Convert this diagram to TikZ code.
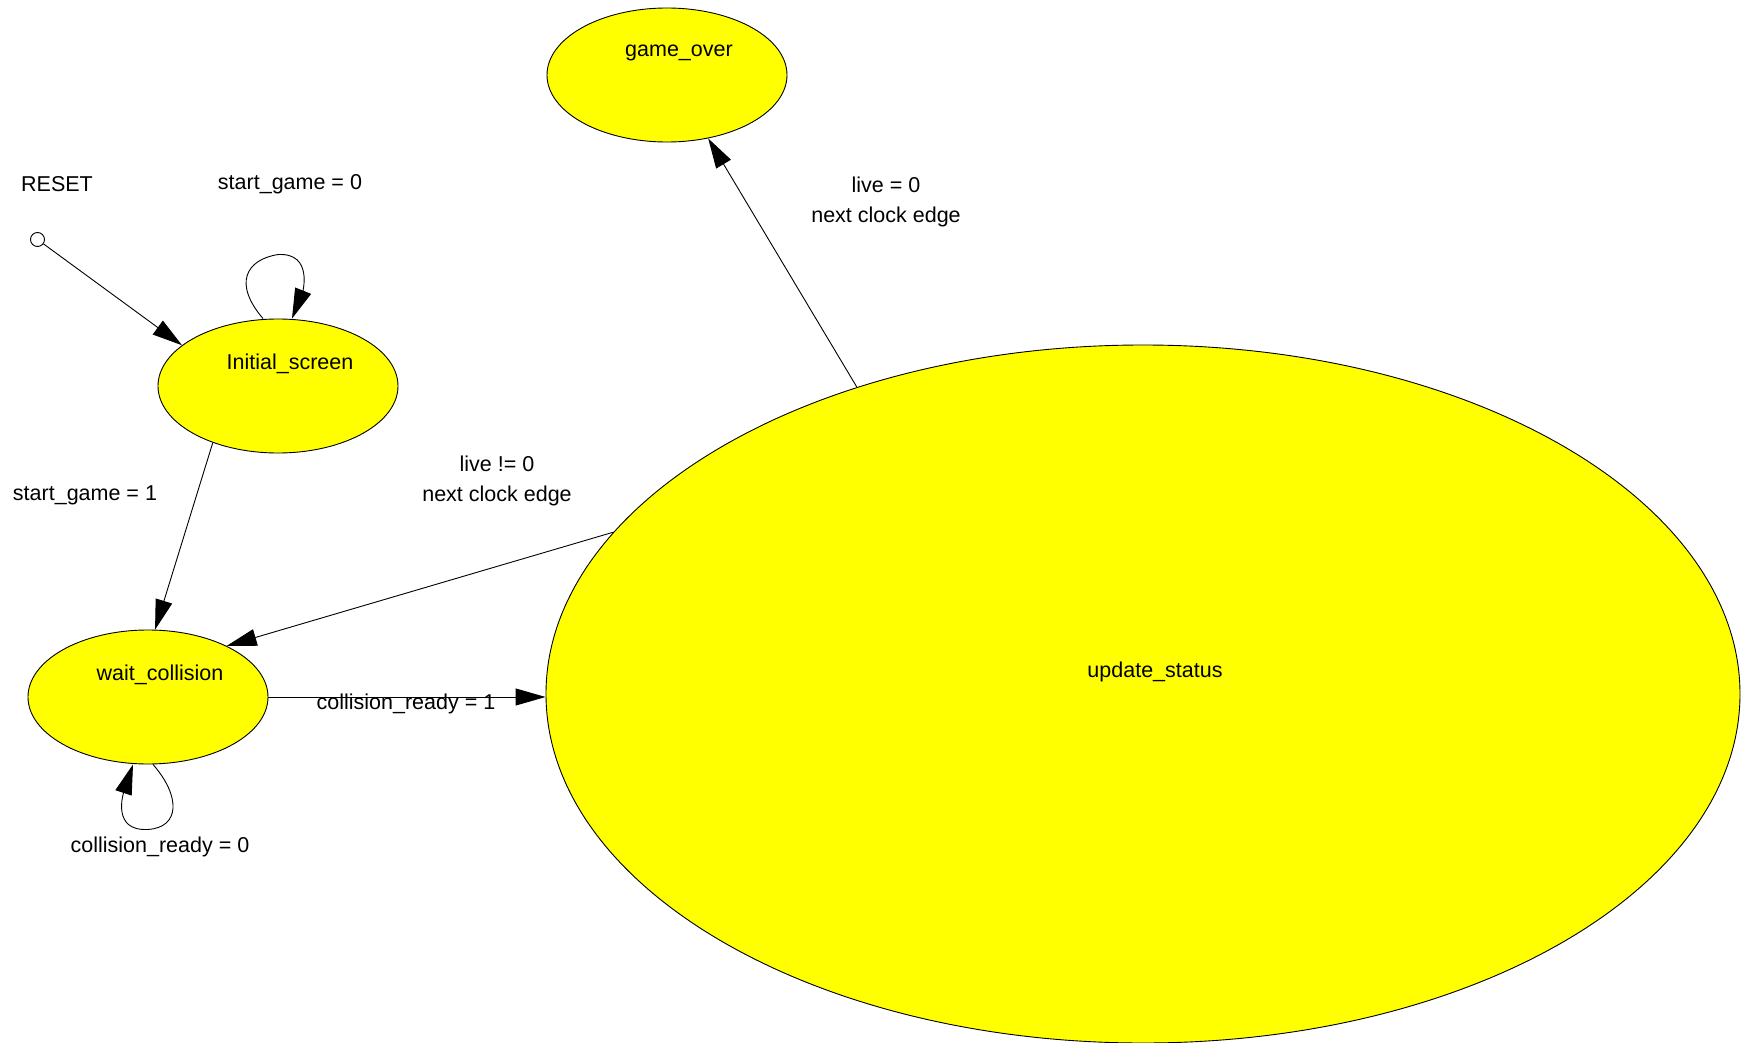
\documentclass[tikz,border=0pt]{standalone}
\usepackage{fontspec}
\setmainfont{Liberation Sans}
\usetikzlibrary{arrows.meta,shapes.geometric,calc}
\definecolor{stfill}{RGB}{255,255,0}
\begin{document}
\begin{tikzpicture}[x=1pt,y=-1pt,
  every node/.style={font=\fontsize{21.5}{24}\selectfont},
  stbox/.style={ellipse,draw=black,line width=0.9pt,fill=stfill,inner sep=0pt},
  small/.style={stbox,minimum width=240pt,minimum height=134pt},
  txt/.style={inner sep=0pt,anchor=center},
  arr/.style={draw=black,line width=0.9pt,-{Triangle[length=30pt,width=17pt]}},
  nlabel/.style={label={[xshift=12pt,yshift=22.5pt,inner sep=0pt,font=\fontsize{21.5}{24}\selectfont]center:#1}}
]
\useasboundingbox (0,0) rectangle (1746,1043);
\fill[white] (0,0) rectangle (1746,1043);

\node[small,nlabel={game\_over}] (go) at (667,75) {};
\node[small,nlabel={Initial\_screen}] (is) at (278,386) {};
\node[small,nlabel={wait\_collision}] (wc) at (148,697) {};
\node[stbox,minimum width=1194pt,minimum height=698pt,nlabel={update\_status}] (us) at (1143,694) {};

\node[circle,draw=black,line width=0.9pt,fill=white,minimum size=14pt,inner sep=0pt] (reset) at (37.5,239.5) {};
\node[txt] (resetl) at (57,184.5) {RESET};

% edges
\draw[arr] (reset) -- (is.157);
\draw[arr] ([xshift=-15pt]is.north) .. controls +(-30pt,35pt) and +(-32pt,-5pt) .. ([yshift=64pt]is.north)
  .. controls +(36pt,2pt) and +(10pt,25pt) .. ([xshift=14pt]is.north);
\draw[arr] (is.221) -- (wc.84);
\draw[arr] ([xshift=5pt]wc.south) .. controls +(28pt,-32pt) and +(32pt,2pt) .. ([yshift=-65pt]wc.south)
  .. controls +(-36pt,-2pt) and +(-10pt,-30pt) .. ([xshift=-15pt]wc.south);
\draw[arr] (wc.east) -- (wc.east -| us.west);
\draw[arr] (us.163) -- (wc.33);
\draw[arr] (us.133) -- (go.303);

% edge labels
\node[txt] (l1) at (290,184.5) {start\_game = 0};
\node[txt] (l2) at (85,495.5) {start\_game = 1};
\node[txt] (l3) at (160,846.5) {collision\_ready = 0};
\node[txt] (l4) at (406,703.5) {collision\_ready = 1};
\node[txt] (l5a) at (497,463.5) {live != 0};
\node[txt] (l5b) at (497,495.5) {next clock edge};
\node[txt] (l6a) at (886,184.5) {live = 0};
\node[txt] (l6b) at (886,216.5) {next clock edge};
\end{tikzpicture}
\end{document}
